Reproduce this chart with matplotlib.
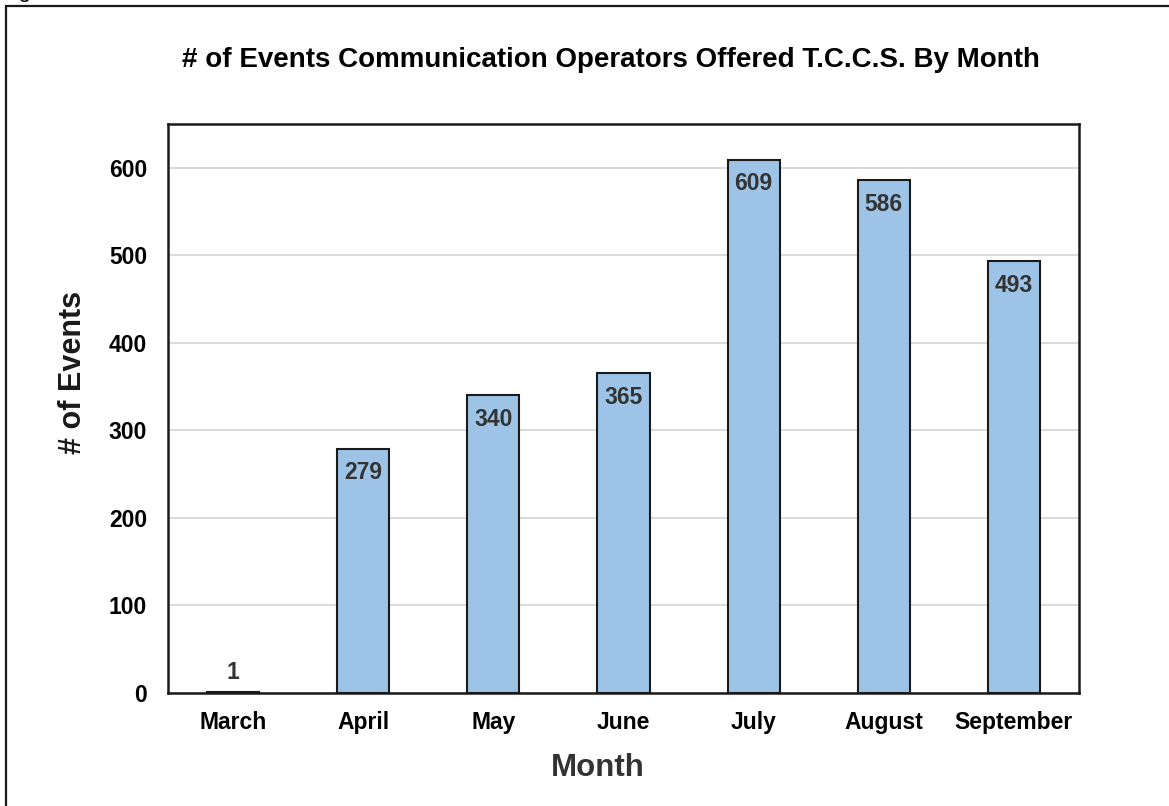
import matplotlib.pyplot as plt
from matplotlib.patches import Rectangle

months = ['March', 'April', 'May', 'June', 'July', 'August', 'September']
events = [1, 279, 340, 365, 609, 586, 493]
yticks = [0, 100, 200, 300, 400, 500, 600]

plt.rcParams['font.family'] = ['Liberation Sans', 'DejaVu Sans']

W, H = 1169, 806
fig = plt.figure(figsize=(W / 100, H / 100), dpi=100)
ax = fig.add_axes([168 / W, 1 - 693 / H, (1079 - 168) / W, (693 - 124) / H])

x = range(len(months))
bars = ax.bar(x, events, width=0.4, color='#9dc3e6', edgecolor='#1a1a1a', linewidth=1.5, zorder=3)

for i, v in enumerate(events):
    if v < 50:
        ax.annotate(str(v), (i, v), xytext=(0, 5.5), textcoords='offset points',
                    ha='center', va='bottom', fontsize=16.5, fontweight='bold', color='#333333')
    else:
        ax.annotate(str(v), (i, v), xytext=(0, -9), textcoords='offset points',
                    ha='center', va='top', fontsize=16.5, fontweight='bold', color='#333333', zorder=4)

ax.set_xlim(-0.5, len(months) - 0.5)
ax.set_ylim(0, 650)
ax.set_yticks(yticks)
ax.set_xticks(list(x))
ax.set_xticklabels(months)
ax.yaxis.grid(True, color='#d4d4d4', linewidth=1.2, zorder=0)
ax.tick_params(axis='both', length=0, labelsize=16.5)
ax.tick_params(axis='y', pad=15)
ax.tick_params(axis='x', pad=13)
for lab in ax.get_xticklabels() + ax.get_yticklabels():
    lab.set_fontweight('bold')
for s in ax.spines.values():
    s.set_linewidth(1.8)
    s.set_color('#1a1a1a')

fig.text(611 / W, 1 - 60 / H, '# of Events Communication Operators Offered T.C.C.S. By Month',
         ha='center', va='center', fontsize=20, fontweight='bold')
fig.text(73 / W, 1 - 372 / H, '# of Events', ha='center', va='center', rotation=90,
         fontsize=22, fontweight='bold', color='#1a1a1a')
fig.text(598 / W, 1 - 768 / H, 'Month', ha='center', va='center',
         fontsize=22.5, fontweight='bold', color='#333333')

# outer frame, cropped at right and bottom
fig.patches.append(Rectangle((6 / W, -0.05), 1.1, 1 - 6 / H + 0.05, transform=fig.transFigure,
                             fill=False, edgecolor='#1a1a1a', linewidth=1.6))
fig.text(0.0, 1 + 3 / H, 'Figure 1', ha='left', va='baseline', fontsize=16)

fig.savefig('out.png', dpi=100)
